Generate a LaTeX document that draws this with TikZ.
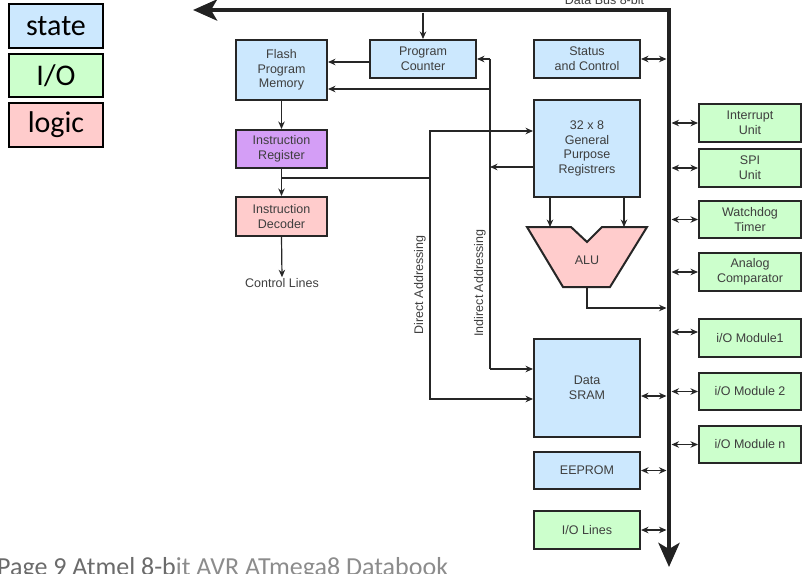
\documentclass[tikz,border=0pt]{standalone}
\usepackage{fontspec}
\setmainfont{Liberation Sans}
\newfontfamily\calib{Carlito}
\usetikzlibrary{arrows.meta}

\definecolor{stateblue}{RGB}{204,232,254}
\definecolor{iogreen}{RGB}{204,255,204}
\definecolor{logicpink}{RGB}{255,204,204}
\definecolor{irpurple}{RGB}{212,158,246}
\definecolor{ink}{RGB}{38,38,38}
\definecolor{txt}{RGB}{62,62,62}

\begin{document}
\begin{tikzpicture}[x=1pt,y=-1pt,
  blk/.style={draw=ink, line width=2pt, inner sep=0pt, align=center,
    text=txt, font=\fontsize{12.5}{14.7}\selectfont},
  mem/.style={blk, fill=stateblue},
  iob/.style={blk, fill=iogreen},
  logicb/.style={blk, fill=logicpink},
  lbl/.style={text=txt, inner sep=1pt, font=\fontsize{12.5}{14.7}\selectfont},
  tip/.tip={Stealth[length=7.5pt,width=6.5pt]},
  wire/.style={draw=ink, line width=1.2pt, -tip},
  plain/.style={draw=ink, line width=1.2pt},
  bi/.style={draw=ink, line width=1.2pt, tip-tip},
  bus/.style={draw=ink!90!black, line width=4.5pt,
    {Stealth[length=24pt,width=21pt,inset=6pt]}-{Stealth[length=24pt,width=21pt,inset=6pt]}},
  legend/.style={draw=black, line width=1.8pt, inner sep=0pt,
    minimum width=94pt, minimum height=44pt,
    font=\calib\fontsize{30}{30}\selectfont}
]
\useasboundingbox (0,0) rectangle (802,573);

% legend
\node[legend, fill=stateblue] (lgstate) at (56,26) {state};
\node[legend, fill=iogreen, minimum height=43pt] (lgio) at (56,75.5) {I/O};
\node[legend, fill=logicpink] (lglogic) at (56,125) {logic};

% data bus
\coordinate (busL) at (193,10);
\coordinate (busC) at (669,10);
\coordinate (busB) at (669,567);
\draw[bus] (busL) -- (busC) -- (busB);
\node[lbl, anchor=base] (buslbl) at (604.5,4) {Data Bus 8-bit};

% program flow column
\node[mem, minimum width=91pt, minimum height=60pt] (flash) at (281.5,70) {Flash\\Program\\Memory};
\node[mem, minimum width=106pt, minimum height=38pt] (pc) at (423,59) {Program\\Counter};
\node[blk, fill=irpurple, minimum width=91pt, minimum height=38pt] (ir) at (281.5,149) {Instruction\\Register};
\node[logicb, minimum width=91pt, minimum height=39pt] (dec) at (281.5,216.5) {Instruction\\Decoder};
\node[lbl] (ctl) at (282,283) {Control Lines};

% core blocks
\node[mem, minimum width=106pt, minimum height=38pt] (stat) at (587,59) {Status\\and Control};
\node[mem, minimum width=106pt, minimum height=97pt] (gpr) at (587,148.5) {32 x 8\\General\\Purpose\\Registrers};
\node[mem, minimum width=106pt, minimum height=98pt] (sram) at (587,388) {Data\\SRAM};
\node[mem, minimum width=106pt, minimum height=37pt] (eeprom) at (587,470.5) {EEPROM};
\node[iob, minimum width=106pt, minimum height=38pt] (iolines) at (587,530) {I/O Lines};

% ALU
\draw[draw=ink, line width=2pt, fill=logicpink, line join=miter]
  (527,227) -- (571,227) -- (587,242) -- (602,227) -- (647,227)
  -- (610,287) -- (563,287) -- cycle;
\node[lbl] (alu) at (587,260) {ALU};
\coordinate (aluA) at (550,227);
\coordinate (aluB) at (624,227);
\coordinate (aluOut) at (587,287);

% peripherals
\node[iob, minimum width=102pt, minimum height=38pt] (intr) at (750,123) {Interrupt\\Unit};
\node[iob, minimum width=102pt, minimum height=38pt] (spi) at (750,168) {SPI\\Unit};
\node[iob, minimum width=102pt, minimum height=37pt] (wdt) at (750,219.5) {Watchdog\\Timer};
\node[iob, minimum width=102pt, minimum height=38pt] (acmp) at (750,272) {Analog\\Comparator};
\node[iob, minimum width=102pt, minimum height=38pt] (mod1) at (750,338) {i/O Module1};
\node[iob, minimum width=102pt, minimum height=37pt] (mod2) at (750,391.5) {i/O Module 2};
\node[iob, minimum width=102pt, minimum height=37pt] (modn) at (750,444.5) {i/O Module n};

% program flow connections
\draw[wire] ([yshift=-2.5pt]pc.north |- busC) -- (pc.north);
\draw[wire] ([yshift=-3pt]pc.west) -- ([yshift=-3pt]pc.west -| flash.east);
\draw[wire] (flash.south) -- (ir.north);
\draw[wire] (ir.south) -- (dec.north);
\draw[wire] (dec.south) -- (ctl.north);

% indirect addressing
\coordinate (indTop) at (490,59);
\coordinate (indFlash) at (490,89);
\coordinate (indBot) at (490,369);
\draw[plain] (indTop) -- (indBot);
\draw[wire] (indTop) -- (pc.east);
\draw[wire] (indFlash) -- (indFlash -| flash.east);
\draw[wire] ([yshift=-18.5pt]gpr.west) -- ([yshift=-18.5pt]gpr.west -| indTop);
\draw[wire] (indBot) -- (indBot -| sram.west);
\node[lbl, rotate=90] (indlbl) at (480,283) {Indirect Addressing};

% direct addressing
\coordinate (dirJ) at (282,178);
\coordinate (dirTop) at (430,131);
\coordinate (dirBot) at (430,399);
\draw[wire] (dirJ) -- (dirJ -| dirTop) -- (dirTop) -- (dirTop -| gpr.west);
\draw[wire] (dirJ -| dirTop) -- (dirBot) -- (dirBot -| sram.west);
\node[lbl, rotate=90] (dirlbl) at (420,285) {Direct Addressing};

% register file and ALU
\draw[wire] (aluA |- gpr.south) -- (aluA);
\draw[wire] (aluB |- gpr.south) -- (aluB);
\draw[wire] (aluOut) -- ++(0,21) -- ([xshift=-2.5pt]busC |- 0,308);

% bus connections, left side
\draw[bi] (stat.east) -- ([xshift=-2.5pt]stat.east -| busC);
\draw[bi] ([yshift=-8pt]sram.east) -- ([xshift=-2.5pt,yshift=-8pt]sram.east -| busC);
\draw[bi] (eeprom.east) -- ([xshift=-2.5pt]eeprom.east -| busC);
\draw[bi] (iolines.east) -- ([xshift=-2.5pt]iolines.east -| busC);

% bus connections, right side
\foreach \p in {intr,spi,wdt,acmp,mod2,modn}
  \draw[bi] ([xshift=2.5pt]\p.west -| busC) -- (\p.west);
\draw[bi] ([xshift=2.5pt,yshift=6pt]mod1.west -| busC) -- ([yshift=6pt]mod1.west);

% source line
\node[anchor=base west, inner sep=0pt, font=\calib\fontsize{26}{26}\selectfont]
  (src) at (-3,575) {{\color[gray]{0.42}Page 9 Atmel 8-b}{\color[gray]{0.55}it AVR ATmega8 Databook}};
\end{tikzpicture}
\end{document}
